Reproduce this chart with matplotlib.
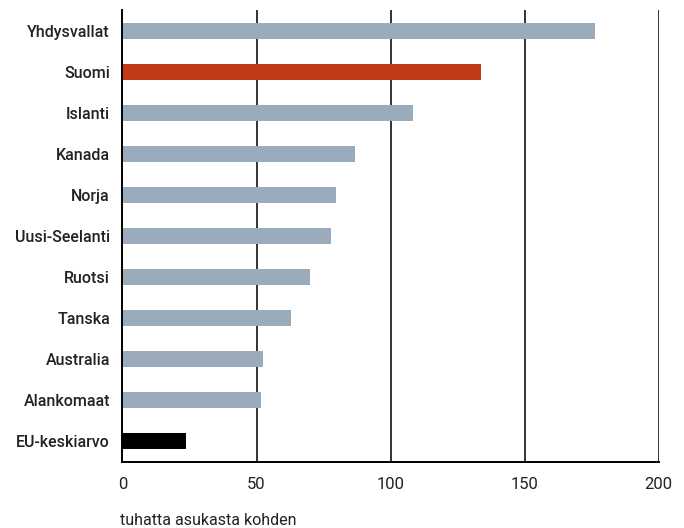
import matplotlib.pyplot as plt

maat = ['Yhdysvallat', 'Suomi', 'Islanti', 'Kanada', 'Norja', 'Uusi-Seelanti',
        'Ruotsi', 'Tanska', 'Australia', 'Alankomaat', 'EU-keskiarvo']
arvot = [176.2, 133.9, 108.4, 86.8, 79.6, 77.6, 69.8, 62.7, 52.6, 51.7, 23.8]
varit = ['#9aabbc', '#c23a17', '#9aabbc', '#9aabbc', '#9aabbc', '#9aabbc',
         '#9aabbc', '#9aabbc', '#9aabbc', '#9aabbc', '#000000']
xticks = [0, 50, 100, 150, 200]

fig = plt.figure(figsize=(6.84, 5.28), dpi=100)
ax = fig.add_axes([0.179, 0.125, 0.784, 0.856])

y = range(len(maat))
ax.barh(y, arvot, height=0.39, color=varit, zorder=3)
for t in xticks[1:]:
    ax.axvline(t, color='#333333', lw=1.4, zorder=1)

ax.set_xlim(0, 200)
ax.set_ylim(len(maat) - 0.5, -0.5)
ax.set_yticks(list(y))
ax.set_yticklabels(maat, fontsize=11.5, fontweight='medium', family='Roboto',
                   color='#222222')
ax.set_xticks(xticks)
ax.set_xticklabels([str(t) for t in xticks], fontsize=12, family='Roboto',
                   color='#222222')
ax.tick_params(length=0, axis='y', pad=9)
ax.tick_params(length=0, axis='x', pad=11)
for s in ['top', 'right']:
    ax.spines[s].set_visible(False)
ax.spines['left'].set_linewidth(1.4)
ax.spines['bottom'].set_linewidth(1.4)
ax.spines['left'].set_zorder(4)

fig.text(0.176, 0.006, 'tuhatta asukasta kohden', fontsize=11.5, family='Roboto',
         color='#222222')

plt.savefig('out.png', dpi=100)
